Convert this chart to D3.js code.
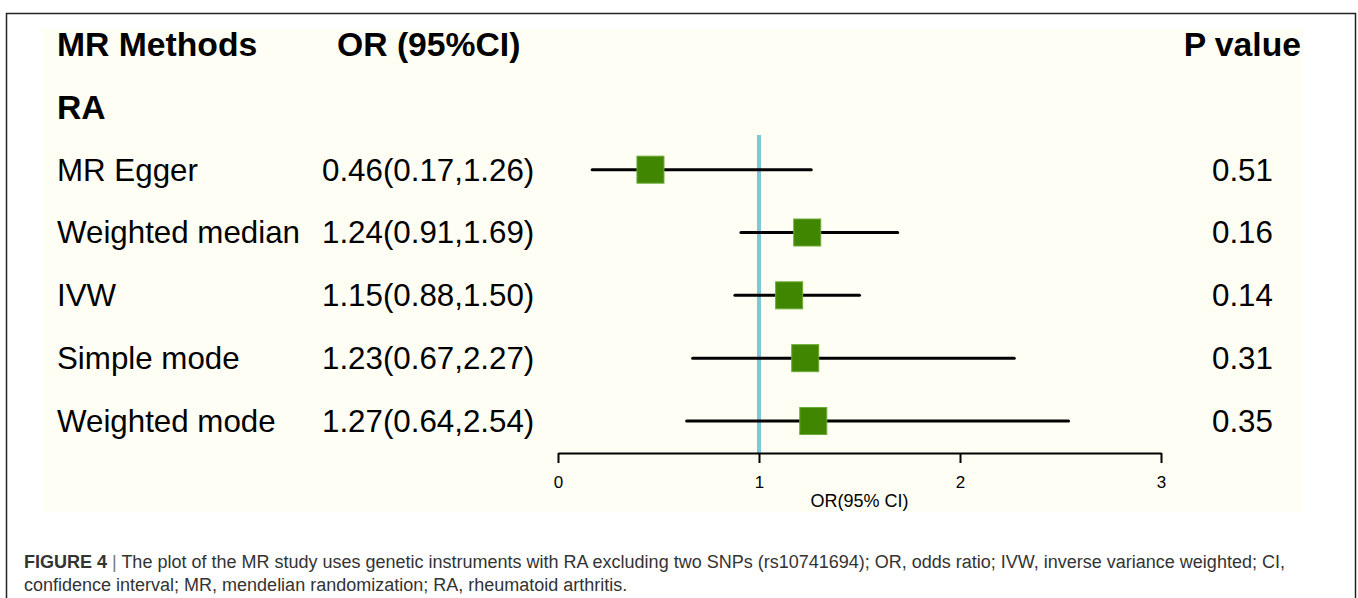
<!DOCTYPE html>
<html>
<head>
<meta charset="utf-8">
<script src="https://cdn.jsdelivr.net/npm/d3@7"></script>
<style>
  body { margin: 0; background: #fff; }
  svg { display: block; font-family: "Liberation Sans", Arial, sans-serif; }
</style>
</head>
<body>
<svg id="chart" width="1358" height="598"></svg>
<script>
// data
const methods = ['MR Egger', 'Weighted median', 'IVW', 'Simple mode', 'Weighted mode'];
const orValues = [0.46, 1.24, 1.15, 1.23, 1.27];
const lowerCI = [0.17, 0.91, 0.88, 0.67, 0.64];
const upperCI = [1.26, 1.69, 1.50, 2.27, 2.54];
const pValues = ['0.51', '0.16', '0.14', '0.31', '0.35'];
const orTicks = [0, 1, 2, 3];
const rowKeys = ['header', 'RA'].concat(methods);

const captionLine1 = 'The plot of the MR study uses genetic instruments with RA excluding two SNPs (rs10741694); OR, odds ratio; IVW, inverse variance weighted; CI,';
const captionLine2 = 'confidence interval; MR, mendelian randomization; RA, rheumatoid arthritis.';

const svg = d3.select('#chart');

// frame + panel
svg.append('rect')
  .attr('x', 6.5).attr('y', 13.5)
  .attr('width', 1349).attr('height', 620)
  .attr('fill', 'none').attr('stroke', '#222').attr('stroke-width', 1.5);

svg.append('rect')
  .attr('x', 43).attr('y', 29)
  .attr('width', 1259).attr('height', 483)
  .attr('fill', '#fefef5');

const x = d3.scaleLinear().domain([0, 3]).range([558, 1161]);
const y = d3.scalePoint().domain(rowKeys).range([44, 421]);

// headers
const head = svg.append('g').style('font-weight', 'bold').style('font-size', '33.7px').attr('fill', '#000');
head.append('text').attr('x', 57).attr('y', y('header')).attr('dy', '0.35em').text('MR Methods');
head.append('text').attr('x', 337).attr('y', y('header')).attr('dy', '0.35em').text('OR (95%CI)');
head.append('text').attr('x', 1301).attr('y', y('header')).attr('dy', '0.35em').attr('text-anchor', 'end').text('P value');
head.append('text').attr('x', 57).attr('y', y('RA')).attr('dy', '0.35em').text('RA');

// reference line at OR = 1
svg.append('line')
  .attr('x1', x(1)).attr('x2', x(1))
  .attr('y1', 135).attr('y2', 453)
  .attr('stroke', '#7fc6d6').attr('stroke-width', 4);

const rows = svg.selectAll('.row')
  .data(methods)
  .enter()
  .append('g')
  .attr('class', 'row')
  .attr('transform', d => `translate(0, ${y(d)})`);

rows.append('text')
  .attr('x', 57).attr('dy', '0.35em')
  .style('font-size', '31.3px')
  .text(d => d);

rows.append('text')
  .attr('x', 322).attr('dy', '0.35em')
  .style('font-size', '31.3px')
  .text((d, i) => `${orValues[i].toFixed(2)}(${lowerCI[i].toFixed(2)},${upperCI[i].toFixed(2)})`);

rows.append('text')
  .attr('x', 1212).attr('dy', '0.35em')
  .style('font-size', '31.3px')
  .text((d, i) => pValues[i]);

rows.append('line')
  .attr('x1', (d, i) => x(lowerCI[i]))
  .attr('x2', (d, i) => x(upperCI[i]))
  .attr('stroke', '#000').attr('stroke-width', 3)
  .attr('stroke-linecap', 'round');

const box = 27;
rows.append('rect')
  .attr('x', (d, i) => x(orValues[i]) - box / 2)
  .attr('y', -box / 2)
  .attr('width', box).attr('height', box)
  .attr('fill', '#408600')
  .attr('stroke', '#6aab35').attr('stroke-width', 1);

// x axis
const axis = svg.append('g')
  .attr('transform', 'translate(0, 453)')
  .call(d3.axisBottom(x).tickValues(orTicks).tickFormat(d3.format('d')).tickSize(10).tickSizeOuter(0).tickPadding(13));
axis.select('.domain').attr('stroke', '#000').attr('stroke-width', 2);
axis.selectAll('.tick line').attr('stroke', '#000').attr('stroke-width', 2);
axis.selectAll('.tick text').style('font-size', '17px').style('font-family', '"Liberation Sans", Arial, sans-serif').attr('fill', '#000');

svg.append('text')
  .attr('x', (x(0) + x(3)) / 2).attr('y', 501).attr('dy', '0.35em')
  .attr('text-anchor', 'middle')
  .style('font-size', '18px')
  .text('OR(95% CI)');

// caption
const cap = svg.append('g').style('font-size', '18px').attr('fill', '#333');
const l1 = cap.append('text').attr('x', 24).attr('y', 568);
l1.append('tspan').style('font-weight', 'bold').text('FIGURE 4');
l1.append('tspan').attr('fill', '#777').text(' | ');
l1.append('tspan').text(captionLine1);
cap.append('text').attr('x', 24).attr('y', 591).text(captionLine2);
</script>
</body>
</html>
